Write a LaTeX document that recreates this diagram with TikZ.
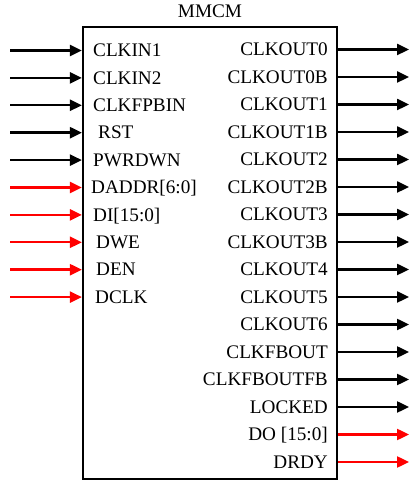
\documentclass[tikz,border=0pt]{standalone}
\usepackage{fontspec}
\setmainfont{Liberation Serif}
\usetikzlibrary{arrows.meta}
\begin{document}
\begin{tikzpicture}[x=1pt,y=1pt,
  lbl/.style={font=\fontsize{19.2}{21}\selectfont, inner sep=0pt, anchor=base west},
  rlbl/.style={font=\fontsize{19.2}{21}\selectfont, inner sep=0pt, anchor=base east},
  sig/.style={line width=2.4pt, -{Triangle[length=12pt,width=11pt]}},
  blk/.style={draw, line width=2.2pt, minimum width=254pt, minimum height=452pt, inner sep=0pt}]
\useasboundingbox (0,0) rectangle (409,481);
\node[blk] (box) at (210,228) {};
\node[font=\fontsize{19.2}{21}\selectfont, inner sep=0pt, anchor=base] (title) at (210,463) {MMCM};
% left inputs
\foreach \i/\t/\dx/\c in {0/CLKIN1/93/black,1/CLKIN2/93/black,2/CLKFPBIN/93/black,3/RST/98/black,4/PWRDWN/93/black,5/DADDR[6:0]/91/red,6/DI[15:0]/93/red,7/DWE/96/red,8/DEN/96/red,9/DCLK/95/red}{
  \pgfmathsetmacro{\yy}{481-50.5-27.4*\i}
  \coordinate (in\i) at (10,\yy);
  \coordinate (ie\i) at (box.west |- 0,\yy);
  \draw[sig, draw=\c, fill=\c] (in\i) -- (ie\i);
  \node[lbl] (li\i) at (\dx,\yy-6.3) {\t};
}
% right outputs
\foreach \i/\t/\c in {0/CLKOUT0/black,1/CLKOUT0B/black,2/CLKOUT1/black,3/CLKOUT1B/black,4/CLKOUT2/black,5/CLKOUT2B/black,6/CLKOUT3/black,7/CLKOUT3B/black,8/CLKOUT4/black,9/CLKOUT5/black,10/CLKOUT6/black,11/CLKFBOUT/black,12/CLKFBOUTFB/black,13/LOCKED/black,14/DO [15:0]/red,15/DRDY/red}{
  \pgfmathsetmacro{\yy}{481-49.5-27.5*\i}
  \coordinate (os\i) at (box.east |- 0,\yy);
  \coordinate (out\i) at (409,\yy);
  \draw[sig, draw=\c, fill=\c] (os\i) -- (out\i);
  \node[rlbl] (lo\i) at (328,\yy-6.3) {\t};
}
\end{tikzpicture}
\end{document}
